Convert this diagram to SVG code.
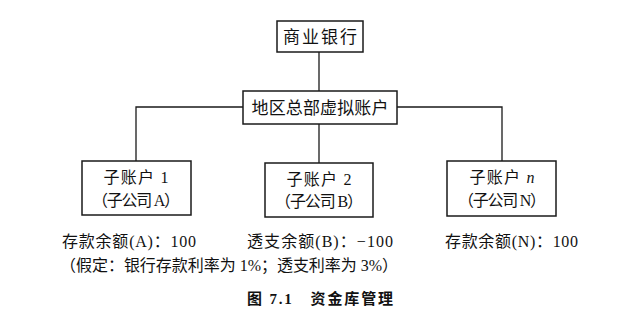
<svg xmlns="http://www.w3.org/2000/svg" width="642" height="336" viewBox="0 0 642 336">
<style>
.box{fill:#fff;stroke:#1a1a1a;stroke-width:1.5}
.ln{fill:none;stroke:#1a1a1a;stroke-width:1.3}
text{font-family:"Liberation Serif","Noto Sans CJK SC",serif;fill:#111}
.t17{font-size:17px;text-anchor:middle}
.t16{font-size:16px;text-anchor:middle}
.b16{font-size:16px}
.cap{font-size:15px;font-weight:bold}
</style>
<rect width="642" height="336" fill="#fff"/>
<g id="connectors">
<line class="ln" x1="319" y1="52" x2="319" y2="91"/>
<polyline class="ln" points="243,107 136,107 136,161"/>
<polyline class="ln" points="397,107 502,107 502,161"/>
<line class="ln" x1="319" y1="124" x2="319" y2="163"/>
</g>
<g id="bank">
<rect class="box" x="277" y="21" width="86" height="31"/>
<text class="t17" x="320" y="43" textLength="74">商业银行</text>
</g>
<g id="hq">
<rect class="box" x="243" y="91" width="154" height="33"/>
<text class="t17" x="320" y="114" textLength="137">地区总部虚拟账户</text>
</g>
<g id="subA">
<rect class="box" x="82" y="161" width="109" height="54"/>
<text class="t16" x="136" y="183" textLength="65">子账户 1</text>
<text class="t16" x="136" y="206" textLength="88">（子公司 A）</text>
</g>
<g id="subB">
<rect class="box" x="265" y="163" width="108" height="54"/>
<text class="t16" x="319" y="185" textLength="65">子账户 2</text>
<text class="t16" x="319" y="207" textLength="88">（子公司 B）</text>
</g>
<g id="subN">
<rect class="box" x="447" y="161" width="109" height="55"/>
<text class="t16" x="502" y="183" textLength="65">子账户 <tspan font-style="italic">n</tspan></text>
<text class="t16" x="502" y="206" textLength="88">（子公司 N）</text>
</g>
<g id="notes">
<text class="b16" x="62" y="247" textLength="134">存款余额(A)：100</text>
<text class="b16" x="247" y="247" textLength="146">透支余额(B)：−100</text>
<text class="b16" x="445" y="247" textLength="133">存款余额(N)：100</text>
<text class="b16" x="60" y="271" textLength="338">（假定：银行存款利率为 1%；透支利率为 3%）</text>
<text class="cap" x="247" y="304" textLength="146">图 7.1　资金库管理</text>
</g>
</svg>
